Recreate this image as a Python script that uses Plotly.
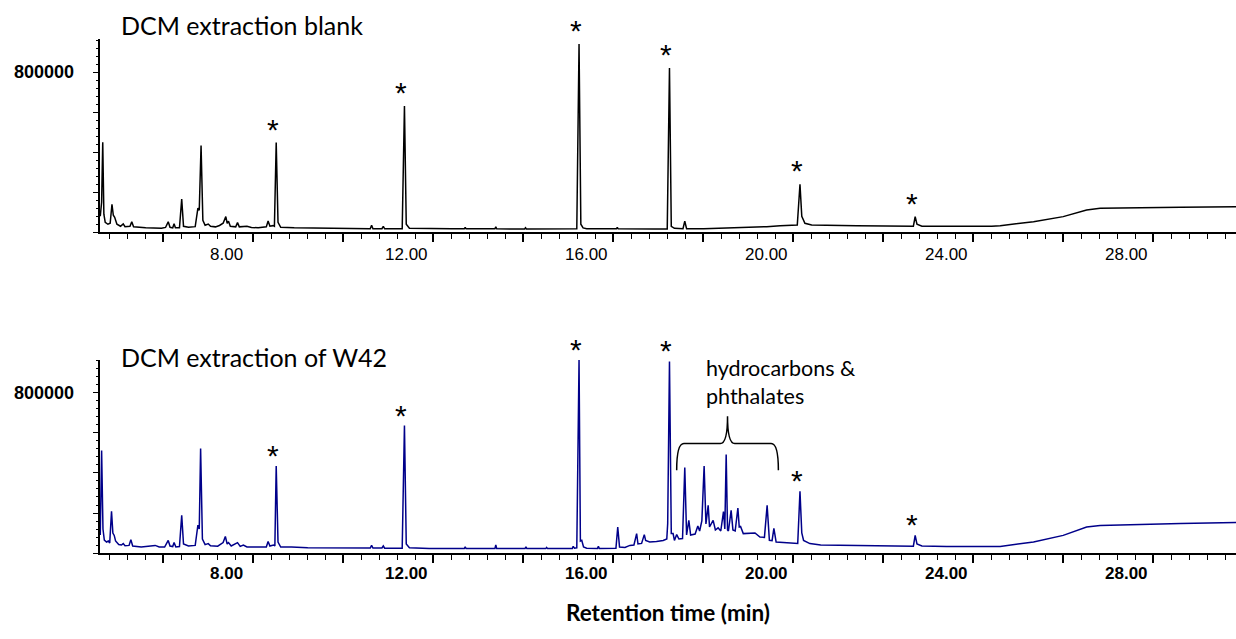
import plotly.graph_objects as go

# ---------------- data ----------------
blank_t = [5.19, 5.22, 5.245, 5.27, 5.30, 5.36, 5.41, 5.45, 5.48, 5.51, 5.56, 5.64, 5.70, 5.74, 5.85, 5.89, 5.93,
           6.20, 6.55, 6.64, 6.70, 6.74, 6.80, 6.83, 6.86, 6.95, 7.00, 7.04, 7.15, 7.30, 7.36, 7.39, 7.43, 7.47,
           7.52, 7.59, 7.64, 7.75, 7.84, 7.92, 7.98, 8.01, 8.04, 8.08, 8.20, 8.24, 8.28, 8.45, 8.55, 8.70, 8.88,
           8.92, 8.96, 9.03, 9.06, 9.10, 9.14, 9.20, 9.50, 10.00, 10.50, 11.00, 11.19, 11.22, 11.25, 11.45, 11.48,
           11.51, 11.90, 11.95, 11.99, 12.06, 12.50, 13.00, 13.28, 13.30, 13.32, 13.96, 13.98, 14.00, 14.62, 14.64,
           14.66, 15.50, 15.78, 15.83, 15.87, 15.92, 16.00, 16.50, 16.66, 16.68, 16.70, 17.50, 17.79, 17.84, 17.88,
           17.95, 18.14, 18.18, 18.22, 18.60, 19.00, 19.50, 20.00, 20.30, 20.68, 20.74, 20.78, 20.85, 21.00, 22.00,
           23.00, 23.26, 23.30, 23.34, 23.45, 24.00, 25.00, 25.19, 25.93, 26.59, 27.11, 27.41, 28.15, 29.20, 30.43]
blank_i = [80000, 150000, 450000, 90000, 50000, 40000, 45000, 140000, 85000, 75000, 40000, 30000, 42000, 28000,
           30000, 52000, 27000, 22000, 20000, 24000, 52000, 25000, 22000, 42000, 22000, 22000, 166000, 30000,
           25000, 28000, 120000, 110000, 433000, 60000, 35000, 41000, 30000, 27000, 34000, 45000, 78000, 45000,
           55000, 30000, 27000, 48000, 27000, 30000, 24000, 22000, 27000, 56000, 30000, 33000, 30000, 448000,
           50000, 25000, 22000, 20000, 18000, 18000, 18000, 35000, 18000, 18000, 30000, 17000, 17000, 631000,
           40000, 20000, 17000, 17000, 17000, 25000, 17000, 17000, 27000, 17000, 16000, 22000, 16000, 16000,
           17000, 940000, 40000, 22000, 18000, 17000, 17000, 25000, 17000, 16000, 16000, 820000, 30000, 20000,
           18000, 56000, 18000, 18000, 20000, 23000, 28000, 33000, 36000, 240000, 80000, 45000, 36000, 32000,
           30000, 30000, 78000, 40000, 30000, 29000, 30000, 33000, 53000, 78000, 111000, 120000, 121000, 125000,
           128000]

w42_t = [5.19, 5.22, 5.25, 5.28, 5.33, 5.37, 5.40, 5.44, 5.47, 5.50, 5.53, 5.60, 5.66, 5.70, 5.74, 5.83, 5.87,
         5.91, 6.10, 6.41, 6.50, 6.62, 6.70, 6.74, 6.80, 6.83, 6.87, 6.95, 7.00, 7.04, 7.15, 7.30, 7.36, 7.39,
         7.42, 7.46, 7.52, 7.59, 7.64, 7.80, 7.92, 7.97, 8.01, 8.04, 8.10, 8.24, 8.30, 8.37, 8.45, 8.52, 8.70,
         8.88, 8.92, 8.96, 9.04, 9.07, 9.10, 9.14, 9.20, 9.44, 9.80, 10.50, 11.00, 11.19, 11.22, 11.25, 11.45,
         11.48, 11.51, 11.90, 11.95, 11.99, 12.06, 12.50, 13.28, 13.30, 13.32, 13.96, 13.98, 14.00, 14.63, 14.65,
         14.67, 15.09, 15.11, 15.13, 15.68, 15.70, 15.73, 15.78, 15.83, 15.86, 15.89, 15.93, 16.00, 16.24, 16.26,
         16.28, 16.65, 16.69, 16.73, 16.85, 16.96, 17.05, 17.11, 17.14, 17.22, 17.28, 17.31, 17.40, 17.55, 17.70,
         17.78, 17.80, 17.84, 17.88, 17.92, 17.95, 18.00, 18.05, 18.13, 18.18, 18.22, 18.27, 18.31, 18.37, 18.41,
         18.47, 18.51, 18.56, 18.61, 18.65, 18.70, 18.73, 18.76, 18.81, 18.86, 18.92, 18.98, 19.04, 19.07, 19.10,
         19.13, 19.15, 19.21, 19.25, 19.30, 19.36, 19.39, 19.42, 19.48, 19.60, 19.74, 19.85, 19.95, 20.01, 20.06,
         20.12, 20.16, 20.21, 20.40, 20.60, 20.69, 20.74, 20.78, 20.82, 20.96, 21.20, 22.00, 23.00, 23.26, 23.30,
         23.34, 23.45, 24.00, 25.19, 25.93, 26.59, 27.11, 27.41, 28.15, 29.20, 30.43]
w42_i = [90000, 513000, 120000, 65000, 55000, 60000, 50000, 208000, 100000, 88000, 60000, 42000, 40000, 47000,
         36000, 38000, 67000, 35000, 30000, 38000, 30000, 30000, 63000, 35000, 32000, 52000, 30000, 32000, 188000,
         45000, 35000, 38000, 140000, 120000, 522000, 70000, 42000, 47000, 36000, 34000, 52000, 83000, 45000,
         52000, 35000, 52000, 33000, 40000, 30000, 30000, 28000, 30000, 58000, 35000, 40000, 35000, 435000, 55000,
         30000, 30000, 26000, 25000, 25000, 25000, 38000, 25000, 25000, 35000, 24000, 24000, 637000, 45000, 26000,
         23000, 22000, 31000, 22000, 22000, 40000, 22000, 22000, 31000, 22000, 22000, 28000, 22000, 22000, 33000,
         24000, 26000, 965000, 60000, 63000, 30000, 24000, 23000, 33000, 23000, 24000, 130000, 30000, 28000,
         38000, 40000, 97000, 45000, 48000, 92000, 63000, 55000, 58000, 63000, 70000, 147000, 958000, 97000,
         97000, 63000, 92000, 70000, 72000, 427000, 90000, 163000, 90000, 92000, 95000, 135000, 110000, 162000,
         435000, 145000, 238000, 130000, 145000, 163000, 115000, 126000, 110000, 207000, 120000, 493000, 115000,
         110000, 213000, 115000, 110000, 225000, 130000, 133000, 97000, 100000, 100000, 80000, 78000, 238000,
         63000, 62000, 123000, 55000, 52000, 47000, 48000, 308000, 100000, 63000, 47000, 40000, 38000, 34000,
         34000, 88000, 45000, 35000, 33000, 33000, 55000, 88000, 130000, 137000, 143000, 148000, 152000]

tick_vals = [8, 12, 16, 20, 24, 28]
tick_text = ["8.00", "12.00", "16.00", "20.00", "24.00", "28.00"]
y_tick_vals = [0, 200000, 400000, 600000, 800000]
y_label_val = 800000
y_label_text = "800000"

# peaks marked with an asterisk (retention times)
star_blank_t = [9.10, 11.95, 15.83, 17.84, 20.74, 23.30]
star_w42_t = [9.10, 11.95, 15.83, 17.84, 20.74, 23.30]

# bracket over the hydrocarbon / phthalate region (min)
bracket_start, bracket_end = 18.00, 20.26

titles = ["DCM extraction blank", "DCM extraction of W42"]
group_label = "hydrocarbons &<br>phthalates"
x_title = "Retention time (min)"

# ---------------- layout constants ----------------
X_RANGE = [5.184, 30.43]
Y_RANGE = [0, 965000]
TICKS_TICK0 = 6.59
TEXT_FONT = "Lato, 'Open Sans', sans-serif"
AX_FONT = "'Liberation Sans', Arial, sans-serif"
NAVY = "#00008a"
TICK_COLOR = "black"

fig = go.Figure()
fig.add_trace(go.Scatter(x=blank_t, y=blank_i, mode="lines", line=dict(color="black", width=1.5),
                         xaxis="x", yaxis="y", showlegend=False, hoverinfo="skip"))
fig.add_trace(go.Scatter(x=w42_t, y=w42_i, mode="lines", line=dict(color=NAVY, width=1.5),
                         xaxis="x2", yaxis="y2", showlegend=False, hoverinfo="skip"))


def x_axis(anchor):
    return dict(range=X_RANGE, anchor=anchor, showgrid=False, zeroline=False, showline=True, automargin=False,
                linecolor="black", linewidth=1.5, showticklabels=False,
                tickmode="linear", tick0=TICKS_TICK0, dtick=2, ticks="outside", ticklen=8, tickwidth=1.5,
                tickcolor=TICK_COLOR,
                minor=dict(ticks="outside", tick0=TICKS_TICK0, dtick=0.4, ticklen=5, tickwidth=1.2,
                           tickcolor=TICK_COLOR))


def y_axis(domain, anchor):
    return dict(domain=domain, anchor=anchor, range=Y_RANGE, showgrid=False, zeroline=False, showline=True,
                automargin=False, showticklabels=False,
                linecolor="black", linewidth=1.5, tickmode="array", tickvals=y_tick_vals,
                ticks="outside", ticklen=5, tickwidth=1.3, tickcolor="black",
                minor=dict(ticks="outside", dtick=40000, ticklen=2, tickwidth=1, tickcolor="black"))


fig.update_layout(
    width=1236, height=639,
    margin=dict(l=100, r=0, t=39, b=86, autoexpand=False),
    paper_bgcolor="white", plot_bgcolor="white",
    xaxis=x_axis("y"),
    xaxis2=x_axis("y2"),
    yaxis=y_axis([0.624, 1.0], "x"),
    yaxis2=y_axis([0.0, 0.3755], "x2"),
)


def peak_height(ts, vs, t0):
    return max(v for t, v in zip(ts, vs) if abs(t - t0) <= 0.03)


STAR_FONT = dict(family=AX_FONT, size=30, color="black")
annotations = []
for t0 in star_blank_t:
    annotations.append(dict(x=t0, y=peak_height(blank_t, blank_i, t0), xref="x", yref="y", text="*",
                            showarrow=False, yanchor="bottom", yshift=-5, xshift=-3, font=STAR_FONT))
for t0 in star_w42_t:
    annotations.append(dict(x=t0, y=peak_height(w42_t, w42_i, t0), xref="x2", yref="y2", text="*",
                            showarrow=False, yanchor="bottom", yshift=-8, xshift=-3, font=STAR_FONT))

# x tick labels (regular on the upper panel, bold on the lower one)
for v, txt in zip(tick_vals, tick_text):
    annotations.append(dict(x=v, y=0, xref="x", yref="y", text=txt, showarrow=False, yanchor="top",
                            yshift=-11, font=dict(family=AX_FONT, size=17, color="black")))
    annotations.append(dict(x=v, y=0, xref="x2", yref="y2", text="<b>" + txt + "</b>", showarrow=False,
                            yanchor="top", yshift=-9, font=dict(family=AX_FONT, size=17, color="black")))
# y tick label
for xr, yr in (("x domain", "y"), ("x2 domain", "y2")):
    annotations.append(dict(x=0, y=y_label_val, xref=xr, yref=yr, text="<b>" + y_label_text + "</b>",
                            showarrow=False, xanchor="right", yanchor="middle", xshift=-24,
                            font=dict(family=AX_FONT, size=18, color="black")))

annotations.append(dict(x=0.0165, y=1.074, xref="x domain", yref="y domain", text=titles[0], showarrow=False,
                        xanchor="left", yanchor="middle", font=dict(family=TEXT_FONT, size=25, color="black")))
annotations.append(dict(x=0.0165, y=1.016, xref="x2 domain", yref="y2 domain", text=titles[1], showarrow=False,
                        xanchor="left", yanchor="middle", font=dict(family=TEXT_FONT, size=25, color="black")))
annotations.append(dict(x=18.61, y=853500, xref="x2", yref="y2", text=group_label, showarrow=False,
                        xanchor="left", yanchor="middle", align="left",
                        font=dict(family=TEXT_FONT, size=21.5, color="black")))
annotations.append(dict(x=0.5, y=-0.115, xref="paper", yref="paper", text="<b>" + x_title + "</b>",
                        showarrow=False, xanchor="center", yanchor="middle",
                        font=dict(family=TEXT_FONT, size=22.5, color="black")))
fig.update_layout(annotations=annotations)

# curly bracket (data coordinates of the bottom panel)
xc = (bracket_start + bracket_end) / 2
yb, yh, ytip = 413500, 547000, 683500
d = 0.16
path = (f"M {bracket_start},{yb} Q {bracket_start},{yh} {bracket_start + d},{yh} "
        f"L {xc - d},{yh} Q {xc},{yh} {xc},{ytip} Q {xc},{yh} {xc + d},{yh} "
        f"L {bracket_end - d},{yh} Q {bracket_end},{yh} {bracket_end},{yb}")
fig.add_shape(type="path", path=path, xref="x2", yref="y2", line=dict(color="black", width=1.5))

fig.write_html("out.html", config={"displayModeBar": False},
               post_script="document.body.style.margin='0';document.body.style.overflow='hidden';")
